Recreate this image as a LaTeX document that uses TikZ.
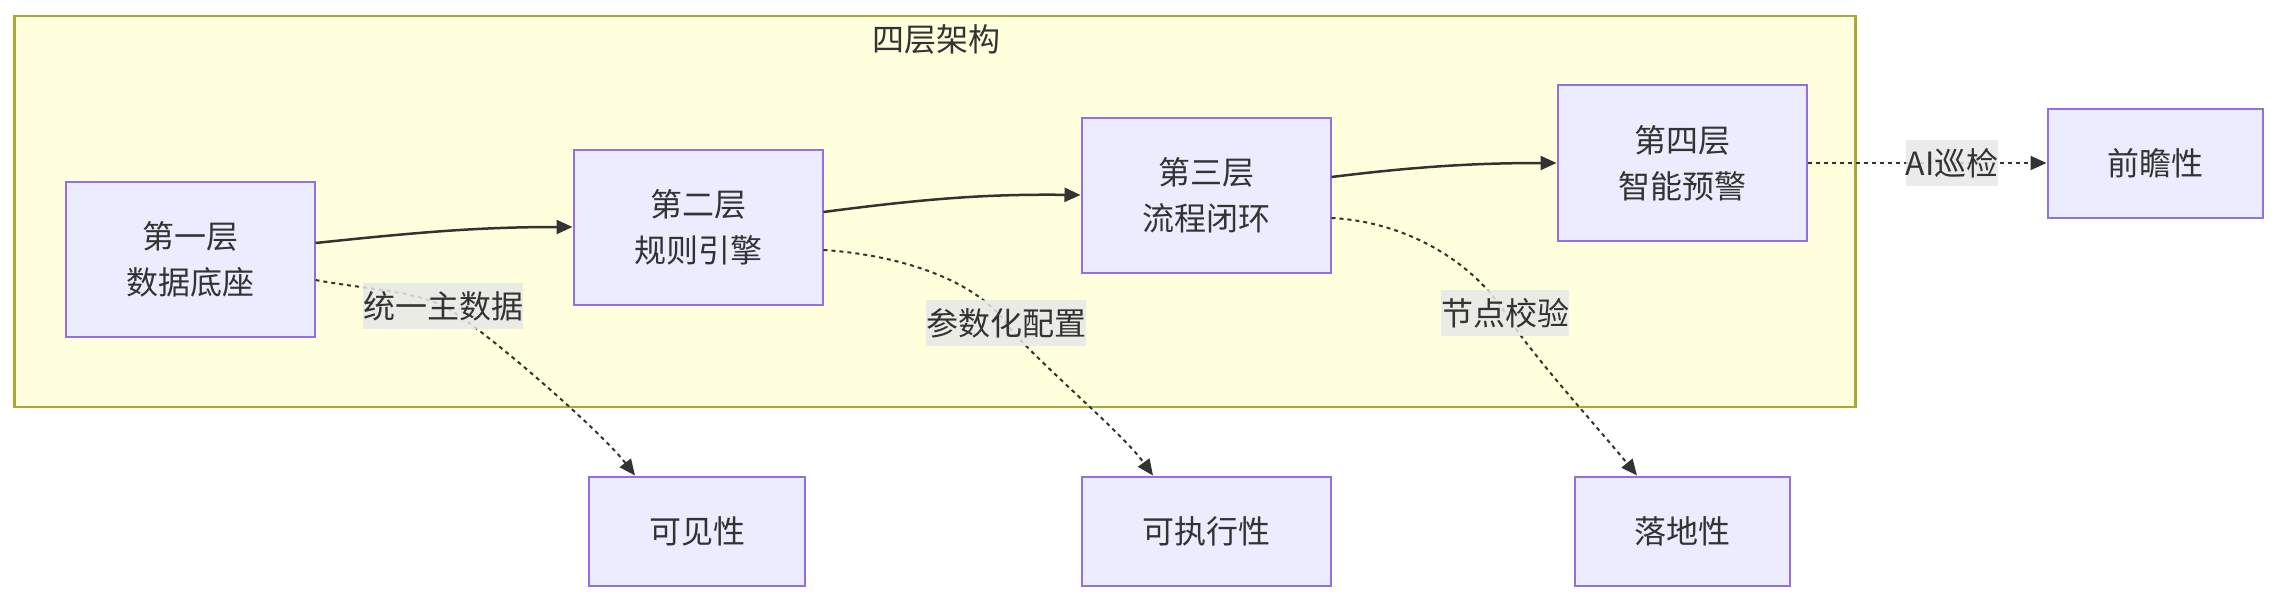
\documentclass[tikz,border=0pt]{standalone}
\usepackage{fontspec}
\setmainfont{Noto Sans CJK SC}
\usetikzlibrary{arrows.meta,calc}
\definecolor{nodefill}{HTML}{ECECFF}
\definecolor{nodedraw}{HTML}{9370DB}
\definecolor{clusterfill}{HTML}{FFFFDE}
\definecolor{clusterdraw}{HTML}{AAAA33}
\definecolor{edgecol}{HTML}{333333}
\definecolor{labelbg}{HTML}{E8E8E8}
\begin{document}
\begin{tikzpicture}[x=1pt,y=-1pt,
  font=\fontsize{32}{46}\selectfont,
  box/.style={draw=nodedraw, fill=nodefill, line width=2pt, text=edgecol, align=center, inner sep=0pt},
  cluster/.style={draw=clusterdraw, fill=clusterfill, line width=2.5pt, inner sep=0pt},
  elabel/.style={fill=labelbg, fill opacity=0.85, text opacity=1, text=edgecol, inner xsep=0pt, inner ysep=0pt, minimum height=46pt},
  solidedge/.style={draw=edgecol, line width=2.5pt, -{Triangle[length=16pt,width=14pt]}},
  dotedge/.style={draw=edgecol, line width=2pt, dash pattern=on 4pt off 4pt, -{Triangle[length=16pt,width=14pt]}}
]
\useasboundingbox (0,0) rectangle (2279,602);
\node[cluster, minimum width=1841pt, minimum height=391pt] (c) at (935,211.5) {};
\node[text=edgecol] (t) at (936,39) {四层架构};

\node[box, minimum width=249pt, minimum height=155pt] (n1) at (190,259) {第一层\\数据底座};
\node[box, minimum width=249pt, minimum height=155pt] (n2) at (698,227) {第二层\\规则引擎};
\node[box, minimum width=249pt, minimum height=155pt] (n3) at (1206,195) {第三层\\流程闭环};
\node[box, minimum width=249pt, minimum height=155pt] (n4) at (1682,163) {第四层\\智能预警};
\node[box, minimum width=215pt, minimum height=109pt] (p) at (2155,163) {前瞻性};
\node[box, minimum width=216pt, minimum height=109pt] (v) at (697,531) {可见性};
\node[box, minimum width=249pt, minimum height=109pt] (e) at (1206,531) {可执行性};
\node[box, minimum width=215pt, minimum height=109pt] (g) at (1682,531) {落地性};

\coordinate (m1) at (443,306);
\coordinate (m2) at (1006,323);
\coordinate (m3) at (1505,313);
\coordinate (m4) at (1952,163);

\draw[solidedge] ($(n1.east)+(0,-16)$) .. controls (420,232) and (480,227) .. (n2.west);
\draw[solidedge] ($(n2.east)+(0,-15)$) .. controls (930,198) and (990,194) .. (n3.west);
\draw[solidedge] ($(n3.east)+(0,-18)$) .. controls (1420,166) and (1480,163) .. (n4.west);
\draw[dotedge] (n4.east) -- (p.west);

\draw[dotedge] ($(n1.east)+(0,21)$) .. controls (370,290) and (410,290) .. (m1) .. controls (476,322) and (600,430) .. ($(v.north)+(-62,0)$);
\draw[dotedge] ($(n2.east)+(0,23)$) .. controls (900,255) and (975,280) .. (m2) .. controls (1030,356) and (1120,430) .. ($(e.north)+(-53,0)$);
\draw[dotedge] ($(n3.east)+(0,23)$) .. controls (1410,222) and (1475,265) .. (m3) .. controls (1530,353) and (1600,430) .. ($(g.north)+(-45,0)$);

\node[elabel] (l1) at (m1) {统一主数据};
\node[elabel] (l2) at (m2) {参数化配置};
\node[elabel] (l3) at (m3) {节点校验};
\node[elabel] (l4) at (m4) {AI巡检};
\end{tikzpicture}
\end{document}
